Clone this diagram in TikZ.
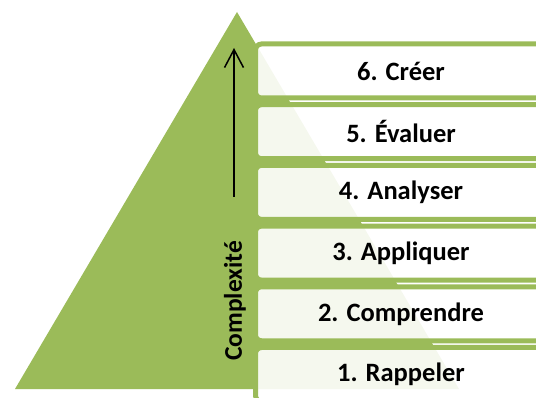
\documentclass[tikz,border=0pt]{standalone}
\usepackage{fontspec}
\setmainfont{Carlito}
\usetikzlibrary{positioning,arrows.meta}
\definecolor{olive}{HTML}{9BBB59}

\begin{document}
\begin{tikzpicture}[x=1pt, y=-1pt, node distance=60.7pt,
    font=\fontsize{26.5}{30}\selectfont\bfseries,
    level/.style={rectangle, draw=olive, line width=5pt, rounded corners=6pt,
      fill=white, fill opacity=0.9, text opacity=1,
      minimum width=291pt, minimum height=54pt}]
    \useasboundingbox (0,0) rectangle (536,398);
    % pyramid
    \fill[olive] (237,12) -- (15,389) -- (459,389) -- cycle;
    % levels
    \node[level] (creer) at (401,71) {6. Créer};
    \node[level] (evaluer) [below of=creer] {5. Évaluer};
    \node[level] (analyser) [below of=evaluer] {4. Analyser};
    \node[level] (appliquer) [below of=analyser] {3. Appliquer};
    \node[level] (comprendre) [below of=appliquer] {2. Comprendre};
    \node[level] (rappeler) [below of=comprendre] {1. Rappeler};
    % axis
    \node[rotate=90, font=\fontsize{25.5}{30}\selectfont\bfseries] (cplx) at (235,301) {Complexité};
    \coordinate (abot) at (234,197);
    \coordinate (atop) at (234,48);
    \draw[-{Straight Barb[length=18pt, width=19pt]}, line width=1.5pt] (abot) -- (atop);
\end{tikzpicture}
\end{document}
